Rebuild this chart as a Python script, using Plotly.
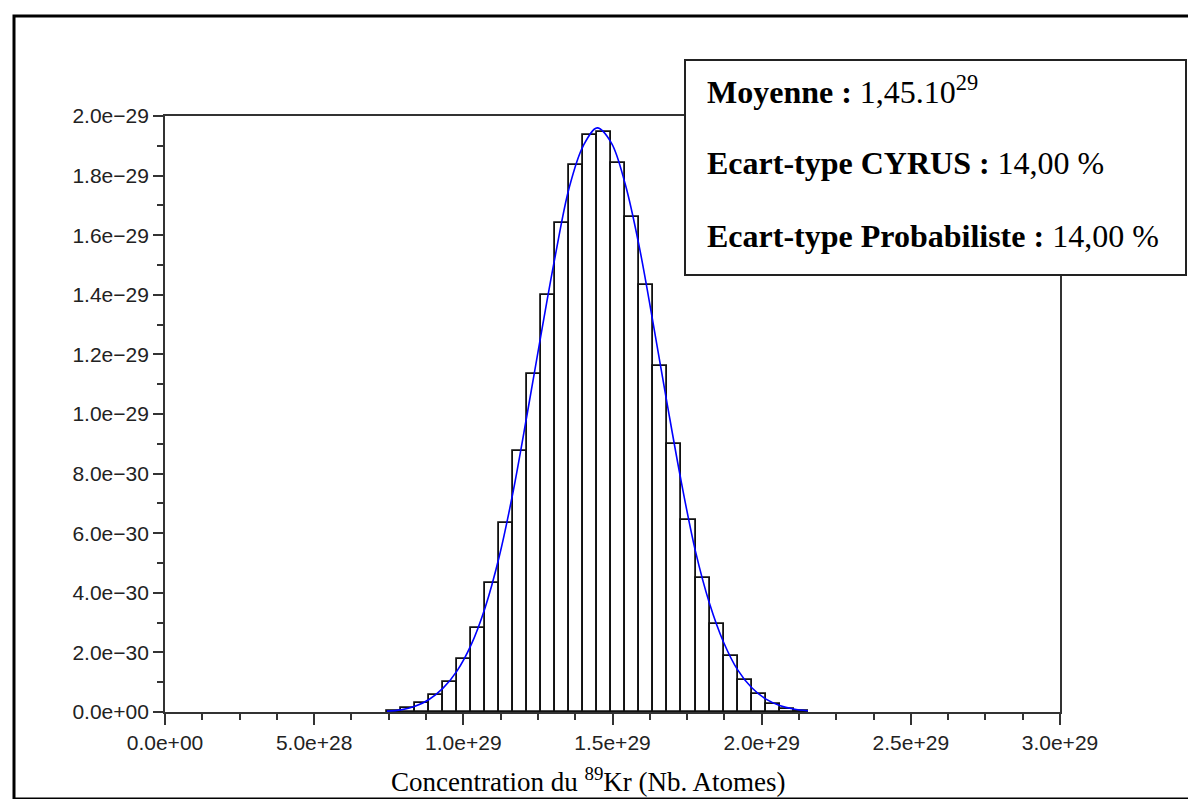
import plotly.graph_objects as go

# ---- data (x in units of 1e29 atoms, y in units of 1e-30) ----
bin_centers = [0.7677, 0.8147, 0.8617, 0.9087, 0.9557, 1.0027, 1.0497, 1.0967, 1.1437, 1.1907,
               1.2377, 1.2847, 1.3317, 1.3787, 1.4257, 1.4727, 1.5197, 1.5667, 1.6137, 1.6607,
               1.7077, 1.7547, 1.8017, 1.8487, 1.8957, 1.9427, 1.9897, 2.0367, 2.0837, 2.1307]
bin_width = 0.0470
bar_heights = [0.04, 0.12, 0.30, 0.58, 1.02, 1.77, 2.83, 4.33, 6.35, 8.75,
               11.35, 14.0, 16.4, 18.35, 19.36, 19.46, 18.42, 16.6, 14.32, 11.6,
               9.0, 6.45, 4.5, 2.95, 1.88, 1.08, 0.6, 0.27, 0.1, 0.04]

curve_x = [0.744, 0.791, 0.838, 0.885, 0.932, 0.979, 1.026, 1.073, 1.120, 1.167, 1.214,
           1.261, 1.308, 1.355, 1.402, 1.449, 1.496, 1.543, 1.590, 1.637, 1.684,
           1.731, 1.778, 1.825, 1.872, 1.919, 1.966, 2.013, 2.060, 2.107, 2.155]
curve_y = [0.03, 0.07, 0.19, 0.42, 0.80, 1.38, 2.25, 3.50, 5.20, 7.40, 10.0,
           12.7, 15.3, 17.6, 19.0, 19.6, 19.1, 17.7, 15.6, 13.0, 10.3,
           7.7, 5.4, 3.65, 2.35, 1.42, 0.82, 0.44, 0.22, 0.10, 0.04]

x_tick_vals = [0.0, 0.5, 1.0, 1.5, 2.0, 2.5, 3.0]
x_tick_text = ["0.0e+00", "5.0e+28", "1.0e+29", "1.5e+29", "2.0e+29", "2.5e+29", "3.0e+29"]
y_tick_vals = [0, 2, 4, 6, 8, 10, 12, 14, 16, 18, 20]
y_tick_text = ["0.0e+00", "2.0e\u221230", "4.0e\u221230", "6.0e\u221230", "8.0e\u221230",
               "1.0e\u221229", "1.2e\u221229", "1.4e\u221229", "1.6e\u221229", "1.8e\u221229",
               "2.0e\u221229"]

X_SCALE = 1e29
Y_SCALE = 1e-30

W, H = 1196, 799
L, R, T, B = 157, 1052, 108, 704  # plot area pixel bounds


def px(xp):
    return (xp - L) / (R - L)


def py(yp):
    return (B - yp) / (B - T)


fig = go.Figure()
fig.add_trace(go.Bar(
    x=[c * X_SCALE for c in bin_centers],
    y=[h * Y_SCALE for h in bar_heights],
    width=bin_width * X_SCALE,
    marker=dict(color="white", line=dict(color="#111111", width=1.8)),
    showlegend=False,
))
fig.add_trace(go.Scatter(
    x=[v * X_SCALE for v in curve_x],
    y=[v * Y_SCALE for v in curve_y],
    mode="lines",
    line=dict(color="#0000ff", width=1.6, shape="spline"),
    showlegend=False,
))

tick_font = dict(family="Liberation Sans, Arial, sans-serif", size=21, color="#222222")
fig.update_xaxes(
    range=[0, 3.0 * X_SCALE],
    tickvals=[v * X_SCALE for v in x_tick_vals],
    ticktext=x_tick_text,
    ticks="outside", ticklen=11, tickwidth=1.6, tickcolor="#333333",
    showline=True, linecolor="#333333", linewidth=1.8, mirror=True,
    showgrid=False, zeroline=False,
    tickfont=tick_font,
    minor=dict(dtick=0.125 * X_SCALE, ticks="outside", ticklen=6, tickwidth=1.6,
               tickcolor="#333333", showgrid=False),
)
fig.update_yaxes(
    range=[0, 20 * Y_SCALE],
    tickvals=[v * Y_SCALE for v in y_tick_vals],
    ticktext=y_tick_text,
    ticks="outside", ticklen=10, tickwidth=1.6, tickcolor="#333333",
    showline=True, linecolor="#333333", linewidth=1.8, mirror=True,
    showgrid=False, zeroline=False,
    tickfont=tick_font,
    minor=dict(dtick=1 * Y_SCALE, ticks="outside", ticklen=6, tickwidth=1.6,
               tickcolor="#333333", showgrid=False),
)

# outer page frame
fig.add_shape(type="rect", xref="paper", yref="paper",
              x0=px(6), x1=px(1188), y0=py(791), y1=py(8),
              line=dict(color="black", width=3), fillcolor="rgba(0,0,0,0)", layer="above")
# statistics box
fig.add_shape(type="rect", xref="paper", yref="paper",
              x0=px(677), x1=px(1178), y0=py(267), y1=py(52),
              line=dict(color="#222222", width=2), fillcolor="white", layer="above")

serif = "Liberation Serif, Times New Roman, serif"
box_lines = [
    ("<b>Moyenne :</b> 1,45.10<sup>29</sup>", 82),
    ("<b>Ecart-type CYRUS :</b> 14,00 %", 155),
    ("<b>Ecart-type Probabiliste :</b> 14,00 %", 228),
]
for txt, yp in box_lines:
    fig.add_annotation(text=txt, xref="paper", yref="paper", x=px(697), y=py(yp),
                       xanchor="left", yanchor="middle", showarrow=False,
                       font=dict(family=serif, size=32, color="black"))

fig.add_annotation(text="Concentration du <sup>89</sup>Kr (Nb. Atomes)",
                   xref="paper", yref="paper", x=px(580), y=py(772),
                   xanchor="center", yanchor="middle", showarrow=False,
                   font=dict(family=serif, size=27, color="black"))

fig.update_layout(
    width=W, height=H,
    margin=dict(l=L, r=W - R, t=T, b=H - B),
    paper_bgcolor="white", plot_bgcolor="white",
    bargap=0,
)

fig.write_html("out.html")
